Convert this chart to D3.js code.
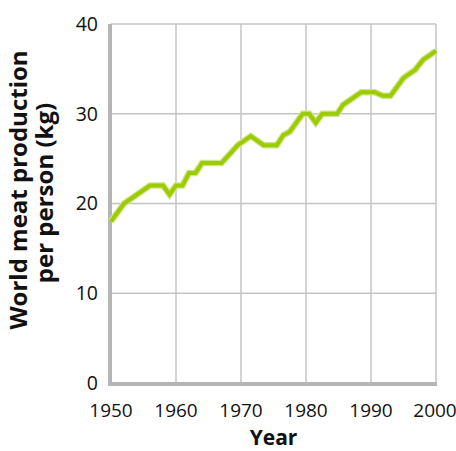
<!DOCTYPE html>
<html>
<head>
<meta charset="utf-8">
<script src="https://cdn.jsdelivr.net/npm/d3@7"></script>
<style>
  body { margin: 0; background: #fff; }
  text { font-family: "Open Sans", "Noto Sans", sans-serif; fill: #111; }
</style>
</head>
<body>
<script>
const years = [1950, 1952, 1956, 1958, 1959, 1960, 1961, 1962, 1963, 1964, 1967,
    1969.5, 1971.5, 1973.5, 1975.5, 1976.5, 1977.5, 1979.5, 1980.5, 1981.5, 1982.5,
    1984.8, 1985.7, 1988.5, 1990.6, 1991.8, 1993, 1995, 1996.8, 1998, 2000];
const meat = [18, 20, 22, 22, 21, 22, 22, 23.4, 23.4, 24.5, 24.5,
    26.5, 27.5, 26.5, 26.5, 27.6, 28, 30, 30, 29, 30,
    30, 31, 32.4, 32.4, 32, 32, 34, 34.9, 36, 37];
const xTicks = [1950, 1960, 1970, 1980, 1990, 2000];
const yTicks = [0, 10, 20, 30, 40];

const margin = {top: 24, right: 20, bottom: 68, left: 111},
    width = 456 - margin.left - margin.right,
    height = 451 - margin.top - margin.bottom;

let svg = d3.select("body")
    .append("svg")
    .attr("width", 456)
    .attr("height", 451)
    .append("g")
    .attr("transform", "translate(" + margin.left + "," + margin.top + ")");

let xScale = d3.scaleLinear().domain([1950, 2000]).range([0, width]);
let yScale = d3.scaleLinear().domain([0, 40]).range([height, 0]);

// grid
svg.selectAll(".vgrid")
    .data(xTicks)
    .enter()
    .append("line")
    .attr("x1", d => xScale(d)).attr("x2", d => xScale(d))
    .attr("y1", 0).attr("y2", height)
    .attr("stroke", "#c4c4c4").attr("stroke-width", 1.5);

svg.selectAll(".hgrid")
    .data(yTicks)
    .enter()
    .append("line")
    .attr("x1", 0).attr("x2", width)
    .attr("y1", d => yScale(d)).attr("y2", d => yScale(d))
    .attr("stroke", "#c4c4c4").attr("stroke-width", 1.5);

// thick axis lines
svg.append("line")
    .attr("x1", -1).attr("x2", -1)
    .attr("y1", 0).attr("y2", height + 2)
    .attr("stroke", "#b5b5b5").attr("stroke-width", 4);
svg.append("line")
    .attr("x1", -3).attr("x2", width + 1)
    .attr("y1", height + 1).attr("y2", height + 1)
    .attr("stroke", "#b5b5b5").attr("stroke-width", 4);

// tick labels
svg.selectAll(".ylab")
    .data(yTicks)
    .enter()
    .append("text")
    .attr("x", -13)
    .attr("y", d => yScale(d))
    .attr("dy", "0.35em")
    .attr("text-anchor", "end")
    .attr("font-size", 19.5)
    .text(d => d);

svg.selectAll(".xlab")
    .data(xTicks)
    .enter()
    .append("text")
    .attr("x", d => xScale(d) - (d === 2000 ? 1 : 0))
    .attr("y", height + 34)
    .attr("text-anchor", "middle")
    .attr("font-size", 19)
    .text(d => d);

// data line
let data = years.map((y, i) => ({year: y, value: meat[i]}));
let valueline = d3.line()
    .x(d => xScale(d.year))
    .y(d => yScale(d.value));

svg.append("path")
    .datum(data)
    .attr("d", valueline)
    .attr("fill", "none")
    .attr("stroke", "#cfe58a")
    .attr("stroke-width", 6.5)
    .attr("stroke-linejoin", "miter");
svg.append("path")
    .datum(data)
    .attr("d", valueline)
    .attr("fill", "none")
    .attr("stroke", "#9ccb00")
    .attr("stroke-width", 4)
    .attr("stroke-linejoin", "miter");

// axis titles
svg.append("text")
    .attr("x", width / 2)
    .attr("y", height + 62)
    .attr("text-anchor", "middle")
    .attr("font-size", 21)
    .attr("font-weight", "bold")
    .text("Year");

svg.append("text")
    .attr("transform", "translate(" + (-84) + "," + 166 + ") rotate(-90)")
    .attr("text-anchor", "middle")
    .attr("font-size", 24)
    .attr("font-weight", "bold")
    .text("World meat production");
svg.append("text")
    .attr("transform", "translate(" + (-58) + "," + 169 + ") rotate(-90)")
    .attr("text-anchor", "middle")
    .attr("font-size", 24)
    .attr("font-weight", "bold")
    .text("per person (kg)");
</script>
</body>
</html>
